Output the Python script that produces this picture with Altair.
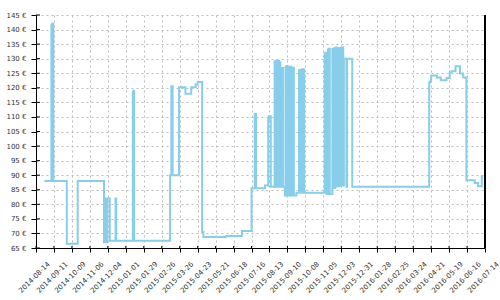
import altair as alt
import pandas as pd

dates = [
    "2014-08-27", "2014-09-07", "2014-09-08", "2014-09-10", "2014-10-01", "2014-10-18",
    "2014-11-28", "2014-11-29", "2014-11-30", "2014-12-01", "2014-12-02", "2014-12-03", "2014-12-07",
    "2014-12-16", "2014-12-17",
    "2015-01-12", "2015-01-13", "2015-01-14",
    "2015-03-11", "2015-03-13", "2015-03-15", "2015-03-25", "2015-04-04", "2015-04-13",
    "2015-04-20", "2015-04-23", "2015-04-30", "2015-05-02",
    "2015-06-06", "2015-07-01", "2015-07-16", "2015-07-21", "2015-07-23", "2015-08-06",
    "2015-08-11", "2015-08-12", "2015-08-15",
    "2015-08-21", "2015-08-22", "2015-08-23", "2015-08-24", "2015-08-25", "2015-08-26",
    "2015-08-27", "2015-08-28", "2015-08-29", "2015-08-30", "2015-08-31", "2015-09-03",
    "2015-09-06", "2015-09-07", "2015-09-08", "2015-09-09", "2015-09-10", "2015-09-11",
    "2015-09-12", "2015-09-13", "2015-09-14", "2015-09-15", "2015-09-16", "2015-09-17",
    "2015-09-18", "2015-09-19", "2015-09-20", "2015-09-24",
    "2015-09-28", "2015-09-29", "2015-09-30", "2015-10-01", "2015-10-02", "2015-10-03",
    "2015-10-04", "2015-10-06",
    "2015-11-07", "2015-11-08", "2015-11-10", "2015-11-12", "2015-11-13", "2015-11-15",
    "2015-11-19", "2015-11-20", "2015-11-21", "2015-11-22", "2015-11-23", "2015-11-24",
    "2015-11-25", "2015-11-26", "2015-11-27", "2015-11-28", "2015-11-29", "2015-11-30",
    "2015-12-01", "2015-12-02", "2015-12-03", "2015-12-04", "2015-12-05", "2015-12-06",
    "2015-12-07", "2015-12-11", "2015-12-12", "2015-12-20",
    "2016-04-18", "2016-04-19", "2016-04-21", "2016-04-30", "2016-05-06", "2016-05-15",
    "2016-05-20", "2016-05-23", "2016-05-29", "2016-06-05", "2016-06-10", "2016-06-15",
    "2016-06-28", "2016-07-03", "2016-07-09", "2016-07-11",
]

prices = [
    88, 141.5, 142, 88, 66.5, 88,
    67, 82, 67, 82, 67, 82, 67.5,
    82, 67.5,
    118.5, 119, 67.5,
    90, 120.5, 90, 120.2, 118, 120.2,
    121.1, 122, 70.5, 68.8,
    69.1, 70.8, 85.5, 111, 85.5, 86.5,
    109.5, 110.2, 86,
    129, 86, 129.3, 86, 129, 86,
    129.2, 86, 128.8, 86, 126.8, 86,
    83, 127.2, 83, 127.5, 83, 127.2,
    83, 127, 83, 127.2, 83, 127,
    83, 126.8, 83, 84,
    126, 84, 126.2, 84, 126.2, 84,
    126.4, 84,
    131.6, 132, 83.5, 133, 133.4, 83.5,
    133.3, 85.6, 133.5, 85.6, 133.7, 86,
    133.8, 86.2, 133.7, 86.2, 133.6, 86.2,
    133.6, 86.3, 133.8, 86.5, 133.8, 86.5,
    130, 86, 130, 86,
    121.7, 122.2, 124.2, 123.5, 122.6, 123.4,
    125.3, 125.7, 127.4, 124.9, 123.5, 88.3,
    87.3, 86.2, 89.6, 89.6,
]

x_ticks = [
    "2014-08-14", "2014-09-11", "2014-10-09", "2014-11-06", "2014-12-04",
    "2015-01-01", "2015-01-29", "2015-02-26", "2015-03-26", "2015-04-23",
    "2015-05-21", "2015-06-18", "2015-07-16", "2015-08-13", "2015-09-10",
    "2015-10-08", "2015-11-05", "2015-12-03", "2015-12-31", "2016-01-28",
    "2016-02-25", "2016-03-24", "2016-04-21", "2016-05-19", "2016-06-16",
    "2016-07-14",
]
y_ticks = [65, 70, 75, 80, 85, 90, 95, 100, 105, 110, 115, 120, 125, 130, 135, 140, 145]

tick_ms = [int(pd.Timestamp(d).value // 10**6) for d in x_ticks]

df = pd.DataFrame({"date": dates, "price": prices})
ydf = pd.DataFrame({"v": y_ticks})
xdf = pd.DataFrame({"t": x_ticks})

W, H = 449, 233
FONT = "DejaVu Sans"

xscale = alt.Scale(type="utc", domain=[tick_ms[0], tick_ms[-1]])
yscale = alt.Scale(domain=[65, 145], nice=False, zero=False)

line = alt.Chart(df).mark_line(
    interpolate="step-after", color="#87CEEB", strokeWidth=2
).encode(
    x=alt.X(
        "date:T",
        scale=xscale,
        axis=alt.Axis(
            values=tick_ms, format="%Y-%m-%d", title=None, grid=True,
            gridDash=[2, 3], gridColor="#bbbbbb", domainColor="black",
            tickColor="black", tickSize=4, labelAngle=315, labelAlign="center",
            labelBaseline="middle", labelPadding=25, labelOffset=-2,
            labelFontSize=7, labelFont=FONT, labelColor="#333333",
            labelOverlap=False, labelBound=False, labelFlush=False,
        ),
    ),
    y=alt.Y(
        "price:Q",
        scale=yscale,
        axis=alt.Axis(
            values=y_ticks, labelExpr="datum.value + ' €'", title=None, grid=True,
            gridDash=[2, 3], gridColor="#bbbbbb", domainColor="black",
            tickColor="black", tickSize=5, labelPadding=5, labelFontSize=7,
            labelFont=FONT, labelColor="#333333", labelOverlap=False,
            labelBound=False, labelFlush=False,
        ),
    ),
)

y_inner = alt.Chart(ydf).mark_rule(color="black", strokeWidth=1).encode(
    y=alt.Y("v:Q", scale=yscale, axis=None),
    x=alt.value(0),
    x2=alt.value(4),
)

x_inner = alt.Chart(xdf).mark_rule(color="black", strokeWidth=1).encode(
    x=alt.X("t:T", scale=xscale, axis=None),
    y=alt.value(H),
    y2=alt.value(H - 2),
)

right_border = alt.Chart(ydf).mark_rule(color="black", strokeWidth=1).encode(
    x=alt.value(W),
    y=alt.value(0),
    y2=alt.value(H),
)

chart = alt.layer(line, y_inner, x_inner, right_border).resolve_axis(
    x="independent", y="independent"
).properties(
    width=W,
    height=H,
    autosize=alt.AutoSizeParams(type="none"),
    padding={"left": 36, "top": 15, "right": 15, "bottom": 52},
    background="white",
).configure_view(stroke=None)

chart.save("out.html", embed_options={"renderer": "svg", "actions": False})
